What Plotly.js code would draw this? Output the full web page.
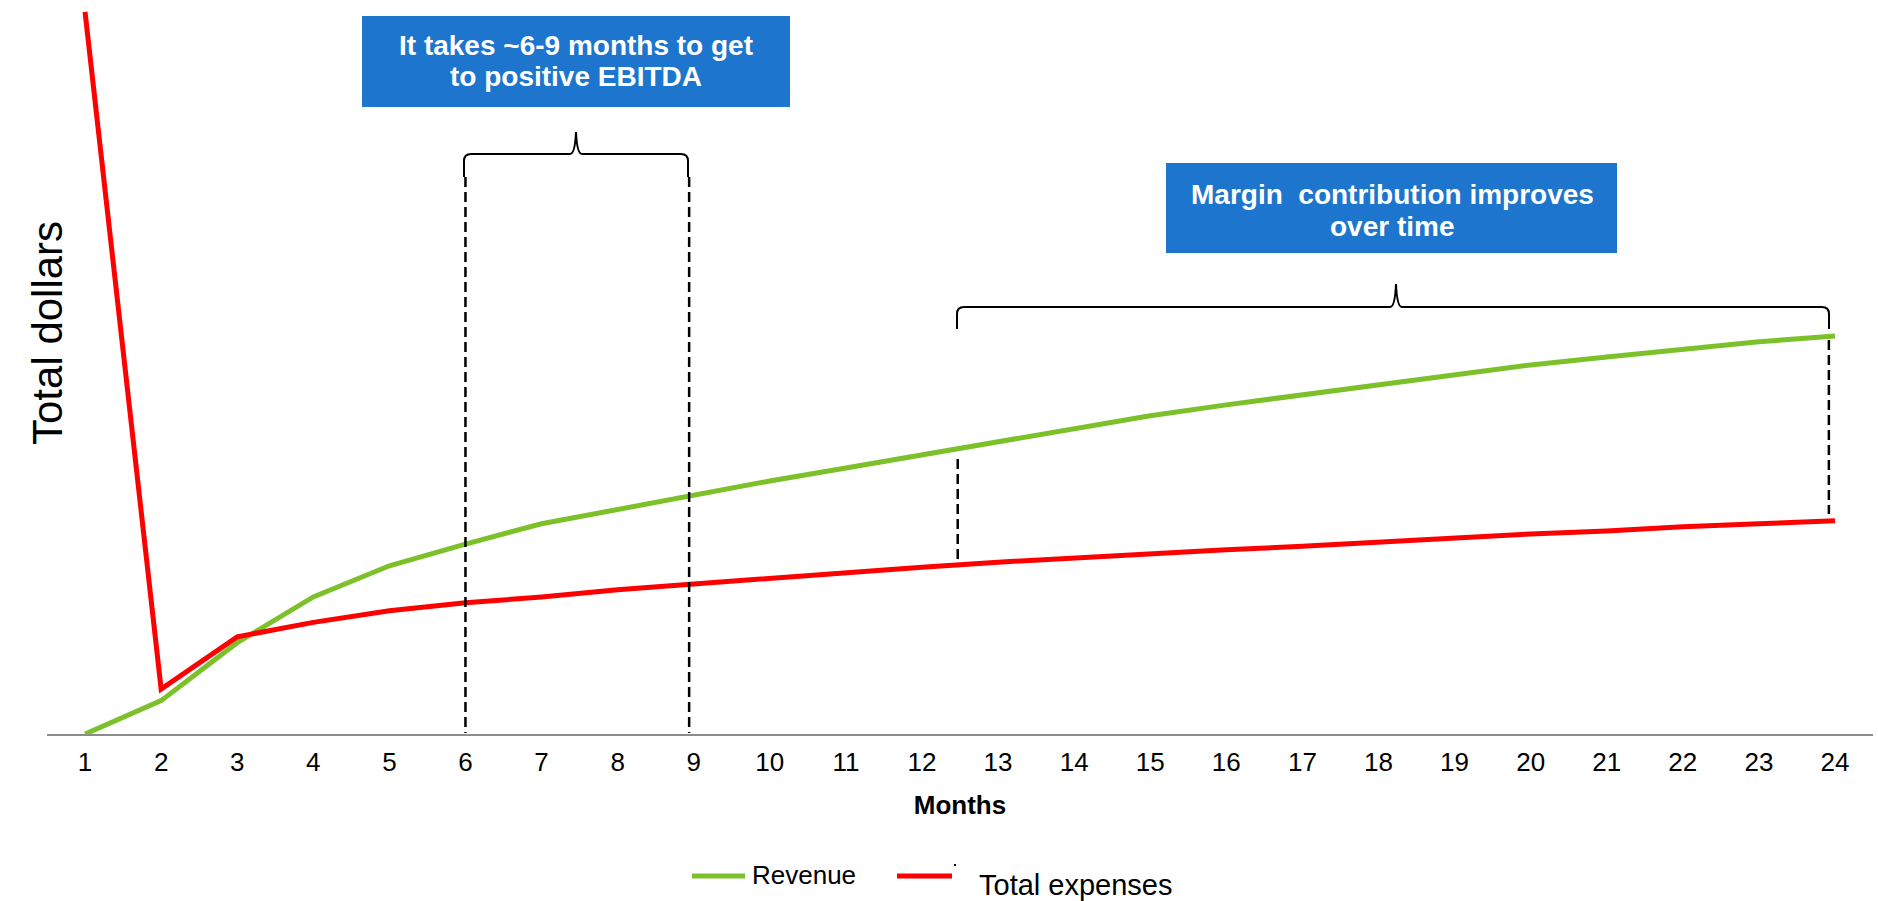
<!DOCTYPE html>
<html>
<head>
<meta charset="utf-8">
<script src="https://cdn.plot.ly/plotly-3.0.1.min.js"></script>
<style>html,body{margin:0;padding:0;background:#fff;}#chart{width:1878px;height:901px;}</style>
</head>
<body>
<div id="chart"></div>
<script>
// ---- data (arbitrary dollar units) ----
const months = [1,2,3,4,5,6,7,8,9,10,11,12,13,14,15,16,17,18,19,20,21,22,23,24];
const monthLabels = ["1","2","3","4","5","6","7","8","9","10","11","12","13","14","15","16","17","18","19","20","21","22","23","24"];
const revenue = [0, 4.6, 12.6, 18.9, 23.2, 26.2, 29.0, 31.0, 33.0, 34.9, 36.7, 38.5, 40.4, 42.2, 43.9, 45.4, 46.8, 48.1, 49.5, 50.9, 52.0, 53.1, 54.1, 54.9];
const totalExpenses = [99.6, 6.2, 13.4, 15.4, 17.0, 18.1, 18.9, 19.9, 20.7, 21.5, 22.2, 23.0, 23.7, 24.3, 24.8, 25.4, 25.9, 26.5, 27.0, 27.6, 28.0, 28.6, 29.0, 29.4];
const seriesNames = ["Revenue", "Total expenses"];
const callout1 = ["It takes ~6-9 months to get", "to positive EBITDA"];
const callout2 = ["Margin\u00A0 contribution improves", "over time"];

// ---- layout geometry ----
const W = 1878, H = 901;
const PL = 47, PR = 5, PT = 9, PB = 167;
const PW = W - PL - PR, PH = H - PT - PB;
const px = X => (X - PL) / PW;
const py = Y => 1 - (Y - PT) / PH;
const P = (X, Y) => px(X).toFixed(5) + ',' + py(Y).toFixed(5);

const GREEN = '#7cc12a', RED = '#ff0000', BLUE = '#1d75cd';
const FONT = 'Liberation Sans, Arial, Helvetica, sans-serif';

function bracePath(x0, x1, xm, yh, ytip, yend) {
  const r = 7;
  return 'M ' + P(x0, yend) + ' L ' + P(x0, yh + r) + ' Q ' + P(x0, yh) + ' ' + P(x0 + r, yh) +
    ' L ' + P(xm - 6, yh) + ' Q ' + P(xm - 1, yh) + ' ' + P(xm, ytip) +
    ' Q ' + P(xm + 1, yh) + ' ' + P(xm + 6, yh) +
    ' L ' + P(x1 - r, yh) + ' Q ' + P(x1, yh) + ' ' + P(x1, yh + r) + ' L ' + P(x1, yend);
}

const traces = [
  {x: months, y: revenue, name: seriesNames[0], type: 'scatter', mode: 'lines',
   line: {color: GREEN, width: 5}, hoverinfo: 'x+y+name'},
  {x: months, y: totalExpenses, name: seriesNames[1], type: 'scatter', mode: 'lines',
   line: {color: RED, width: 5}, hoverinfo: 'x+y+name'}
];

const dash = {color: '#000', width: 2.5, dash: '10px,5px'};
const shapes = [
  // dashed guides
  {type: 'line', xref: 'x', yref: 'paper', x0: 6, x1: 6, y0: py(177), y1: py(733), line: dash},
  {type: 'line', xref: 'x', yref: 'paper', x0: 8.94, x1: 8.94, y0: py(177), y1: py(733), line: dash},
  {type: 'line', xref: 'x', yref: 'paper', x0: 12.47, x1: 12.47, y0: py(459), y1: py(560), line: dash},
  {type: 'line', xref: 'x', yref: 'paper', x0: 23.92, x1: 23.92, y0: py(340), y1: py(514), line: dash},
  // braces
  {type: 'path', xref: 'paper', yref: 'paper', path: bracePath(464, 688, 576, 154, 132, 177), line: {color: '#000', width: 2}},
  {type: 'path', xref: 'paper', yref: 'paper', path: bracePath(957, 1829, 1396, 307, 284, 329), line: {color: '#000', width: 2}},
  // callout boxes
  {type: 'rect', xref: 'paper', yref: 'paper', x0: px(362), x1: px(790), y0: py(107), y1: py(16), fillcolor: BLUE, line: {width: 0}},
  {type: 'rect', xref: 'paper', yref: 'paper', x0: px(1166), x1: px(1617), y0: py(253), y1: py(163), fillcolor: BLUE, line: {width: 0}},
  // legend swatches
  {type: 'line', xref: 'paper', yref: 'paper', x0: px(692), x1: px(745), y0: py(876), y1: py(876), line: {color: GREEN, width: 5}},
  {type: 'line', xref: 'paper', yref: 'paper', x0: px(897), x1: px(952), y0: py(876), y1: py(876), line: {color: RED, width: 5}},
  {type: 'rect', xref: 'paper', yref: 'paper', x0: px(954), x1: px(956), y0: py(866), y1: py(864), fillcolor: '#000', line: {width: 0}}
];

function calloutLine(text, X, Y) {
  return {xref: 'paper', yref: 'paper', x: px(X), y: py(Y), xanchor: 'center', yanchor: 'middle', showarrow: false,
    text: '<b>' + text + '</b>', align: 'center', font: {family: FONT, size: 28, color: '#fff'}};
}

const annotations = [
  calloutLine(callout1[0], 576, 46),
  calloutLine(callout1[1], 576, 77),
  calloutLine(callout2[0], 1392, 194),
  calloutLine(callout2[1], 1392, 226),
  {xref: 'paper', yref: 'paper', x: px(48), y: py(333), xanchor: 'center', yanchor: 'middle', showarrow: false,
   text: 'Total dollars', textangle: -90, font: {family: FONT, size: 42, color: '#000'}},
  {xref: 'paper', yref: 'paper', x: px(750), y: py(875), xanchor: 'left', yanchor: 'middle', showarrow: false,
   text: seriesNames[0], font: {family: FONT, size: 26, color: '#000'}},
  {xref: 'paper', yref: 'paper', x: px(977), y: py(885), xanchor: 'left', yanchor: 'middle', showarrow: false,
   text: seriesNames[1], font: {family: FONT, size: 29, color: '#000'}}
];

const layout = {
  width: W, height: H,
  margin: {l: PL, r: PR, t: PT, b: PB, pad: 0},
  paper_bgcolor: '#fff', plot_bgcolor: '#fff',
  showlegend: false,
  font: {family: FONT, color: '#000'},
  xaxis: {
    range: [0.5, 24.5], tickmode: 'array', tickvals: months, ticktext: monthLabels,
    showgrid: false, zeroline: false, showline: true, linecolor: '#8c8c8c', linewidth: 2,
    ticks: '', ticklabelstandoff: 4, tickfont: {family: FONT, size: 26, color: '#000'},
    title: {text: '<b>Months</b>', font: {family: FONT, size: 26, color: '#000'}, standoff: 20},
    automargin: false, fixedrange: true
  },
  yaxis: {
    range: [0, 100], showgrid: false, zeroline: false, showline: false,
    showticklabels: false, ticks: '', automargin: false, fixedrange: true
  },
  shapes: shapes,
  annotations: annotations
};

Plotly.newPlot('chart', traces, layout, {displayModeBar: false, staticPlot: true});
</script>
</body>
</html>
